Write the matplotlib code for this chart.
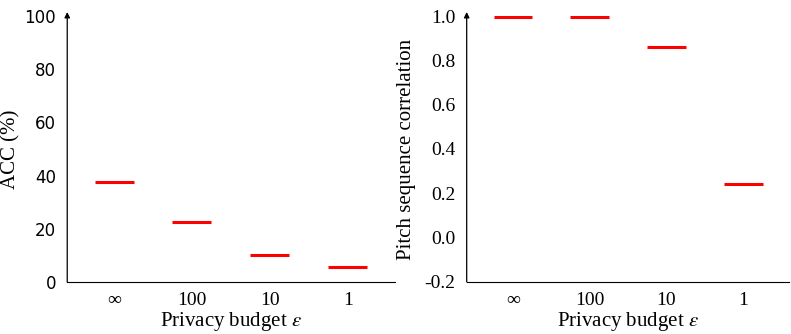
import numpy as np
import matplotlib.pyplot as plt

labels = ["\u221e", "100", "10", "1"]
acc = [37.6, 22.6, 10.2, 5.6]
corr = [0.995, 0.995, 0.86, 0.242]

serif = ["Liberation Serif", "DejaVu Serif"]
plt.rcParams["mathtext.fontset"] = "stix"


def style(ax, ylim, yticks, ytick_fmt, ytick_serif):
    ax.set_xlim(-0.6, 3.6)
    ax.set_ylim(*ylim)
    ax.spines["top"].set_visible(False)
    ax.spines["right"].set_visible(False)
    ax.spines["left"].set_visible(False)
    ax.tick_params(length=0, pad=7)
    ax.tick_params(axis="y", pad=8)
    ax.set_xticks(range(len(labels)))
    ax.set_xticklabels(labels, fontfamily=serif, fontsize=14)
    ax.set_yticks(yticks)
    ax.set_yticklabels([ytick_fmt(v) for v in yticks],
                       fontfamily=serif if ytick_serif else "DejaVu Sans",
                       fontsize=14 if ytick_serif else 12)
    ax.set_xlabel(r"Privacy budget $\epsilon$", fontfamily=serif, fontsize=15, labelpad=1)
    # y axis drawn as an arrow
    ax.annotate("", xy=(0, 1.015), xytext=(0, 0), xycoords="axes fraction",
                arrowprops=dict(arrowstyle="-|>", lw=0.9, color="black",
                                mutation_scale=8, shrinkA=0, shrinkB=0))


fig = plt.figure(figsize=(7.91, 3.34), dpi=100)
ax1 = fig.add_axes([0.085, 0.156, 0.414, 0.796])
ax2 = fig.add_axes([0.590, 0.156, 0.408, 0.796])

x = np.arange(len(labels))
ax1.hlines(acc, x - 0.25, x + 0.25, colors="red", lw=2.2)
style(ax1, (0, 100), [0, 20, 40, 60, 80, 100], lambda v: "%d" % v, False)
ax1.set_ylabel("ACC (%)", fontfamily=serif, fontsize=15, labelpad=3)

ax2.hlines(corr, x - 0.25, x + 0.25, colors="red", lw=2.2)
style(ax2, (-0.2, 1.0), [-0.2, 0.0, 0.2, 0.4, 0.6, 0.8, 1.0], lambda v: "%.1f" % v, True)
ax2.set_ylabel("Pitch sequence correlation", fontfamily=serif, fontsize=15, labelpad=6)

fig.savefig("out.png", dpi=100)
